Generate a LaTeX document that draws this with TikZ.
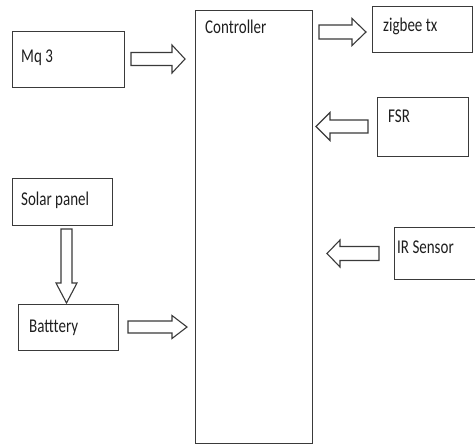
\documentclass[tikz,border=0pt]{standalone}
\usepackage{fontspec}
\setmainfont{Carlito}
\usepackage{graphicx}
\definecolor{ln}{HTML}{3A3A3A}
\definecolor{tx}{HTML}{1E1E1E}
\newcommand\stx[1]{\scalebox{1}[1.3]{#1}}
% right/left horizontal block arrow: tail x, tip x, centre y, shaft half, head half, head base x
\newcommand\harrow[7]{\draw[blk] (#2,#4-#5) coordinate (#1) -- (#7,#4-#5) -- (#7,#4-#6) -- (#3,#4) -- (#7,#4+#6) -- (#7,#4+#5) -- (#2,#4+#5) -- cycle;}
\begin{document}
\begin{tikzpicture}[x=1pt,y=-1pt,
  box/.style={draw=ln,line width=1.3pt,inner sep=0pt,anchor=north west},
  txt/.style={inner sep=0pt,anchor=base west,text=tx,font=\fontsize{15}{18}\selectfont},
  blk/.style={draw=ln,line width=1.1pt,fill=white,line join=miter}]
\useasboundingbox (0,0) rectangle (475,445);
% boxes
\node[box,minimum width=117pt,minimum height=433pt] (ctrl) at (195,10) {};
\node[box,minimum width=112pt,minimum height=56pt] (mq) at (12,31) {};
\node[box,minimum width=100pt,minimum height=47pt] (solar) at (12,178) {};
\node[box,minimum width=100pt,minimum height=46pt] (batt) at (18,304) {};
\node[box,minimum width=100pt,minimum height=46pt] (zig) at (372,6) {};
\node[box,minimum width=91pt,minimum height=59pt] (fsr) at (377,97) {};
\node[box,minimum width=82pt,minimum height=52pt] (ir) at (394,227) {};
% texts
\node[txt] (ctrlt) at (205,33) {\stx{Controller}};
\node[txt] (mqt) at (21,62) {\stx{Mq 3}};
\node[txt] (solart) at (21,205) {\stx{Solar panel}};
\node[txt] (battt) at (29,332) {\stx{Batttery}};
\node[txt] (zigt) at (383,31) {\stx{zigbee tx}};
\node[txt] (fsrt) at (388,122) {\stx{FSR}};
\node[txt] (irt) at (397,253) {\stx{IR Sensor}};
% block arrows
\harrow{a1}{131}{185}{59}{6.5}{14}{172}
\harrow{a2}{319}{366}{32}{7}{13.5}{352}
\harrow{a3}{368}{316}{126.5}{6.5}{14}{330}
\harrow{a4}{379}{327}{253.5}{7}{13.5}{340}
\harrow{a5}{128}{187}{327}{6}{11.5}{172}
\draw[blk] (61,229) coordinate (a6) -- (72,229) -- (72,283) -- (77,283) -- (66.5,303) -- (56,283) -- (61,283) -- cycle;
\end{tikzpicture}
\end{document}
